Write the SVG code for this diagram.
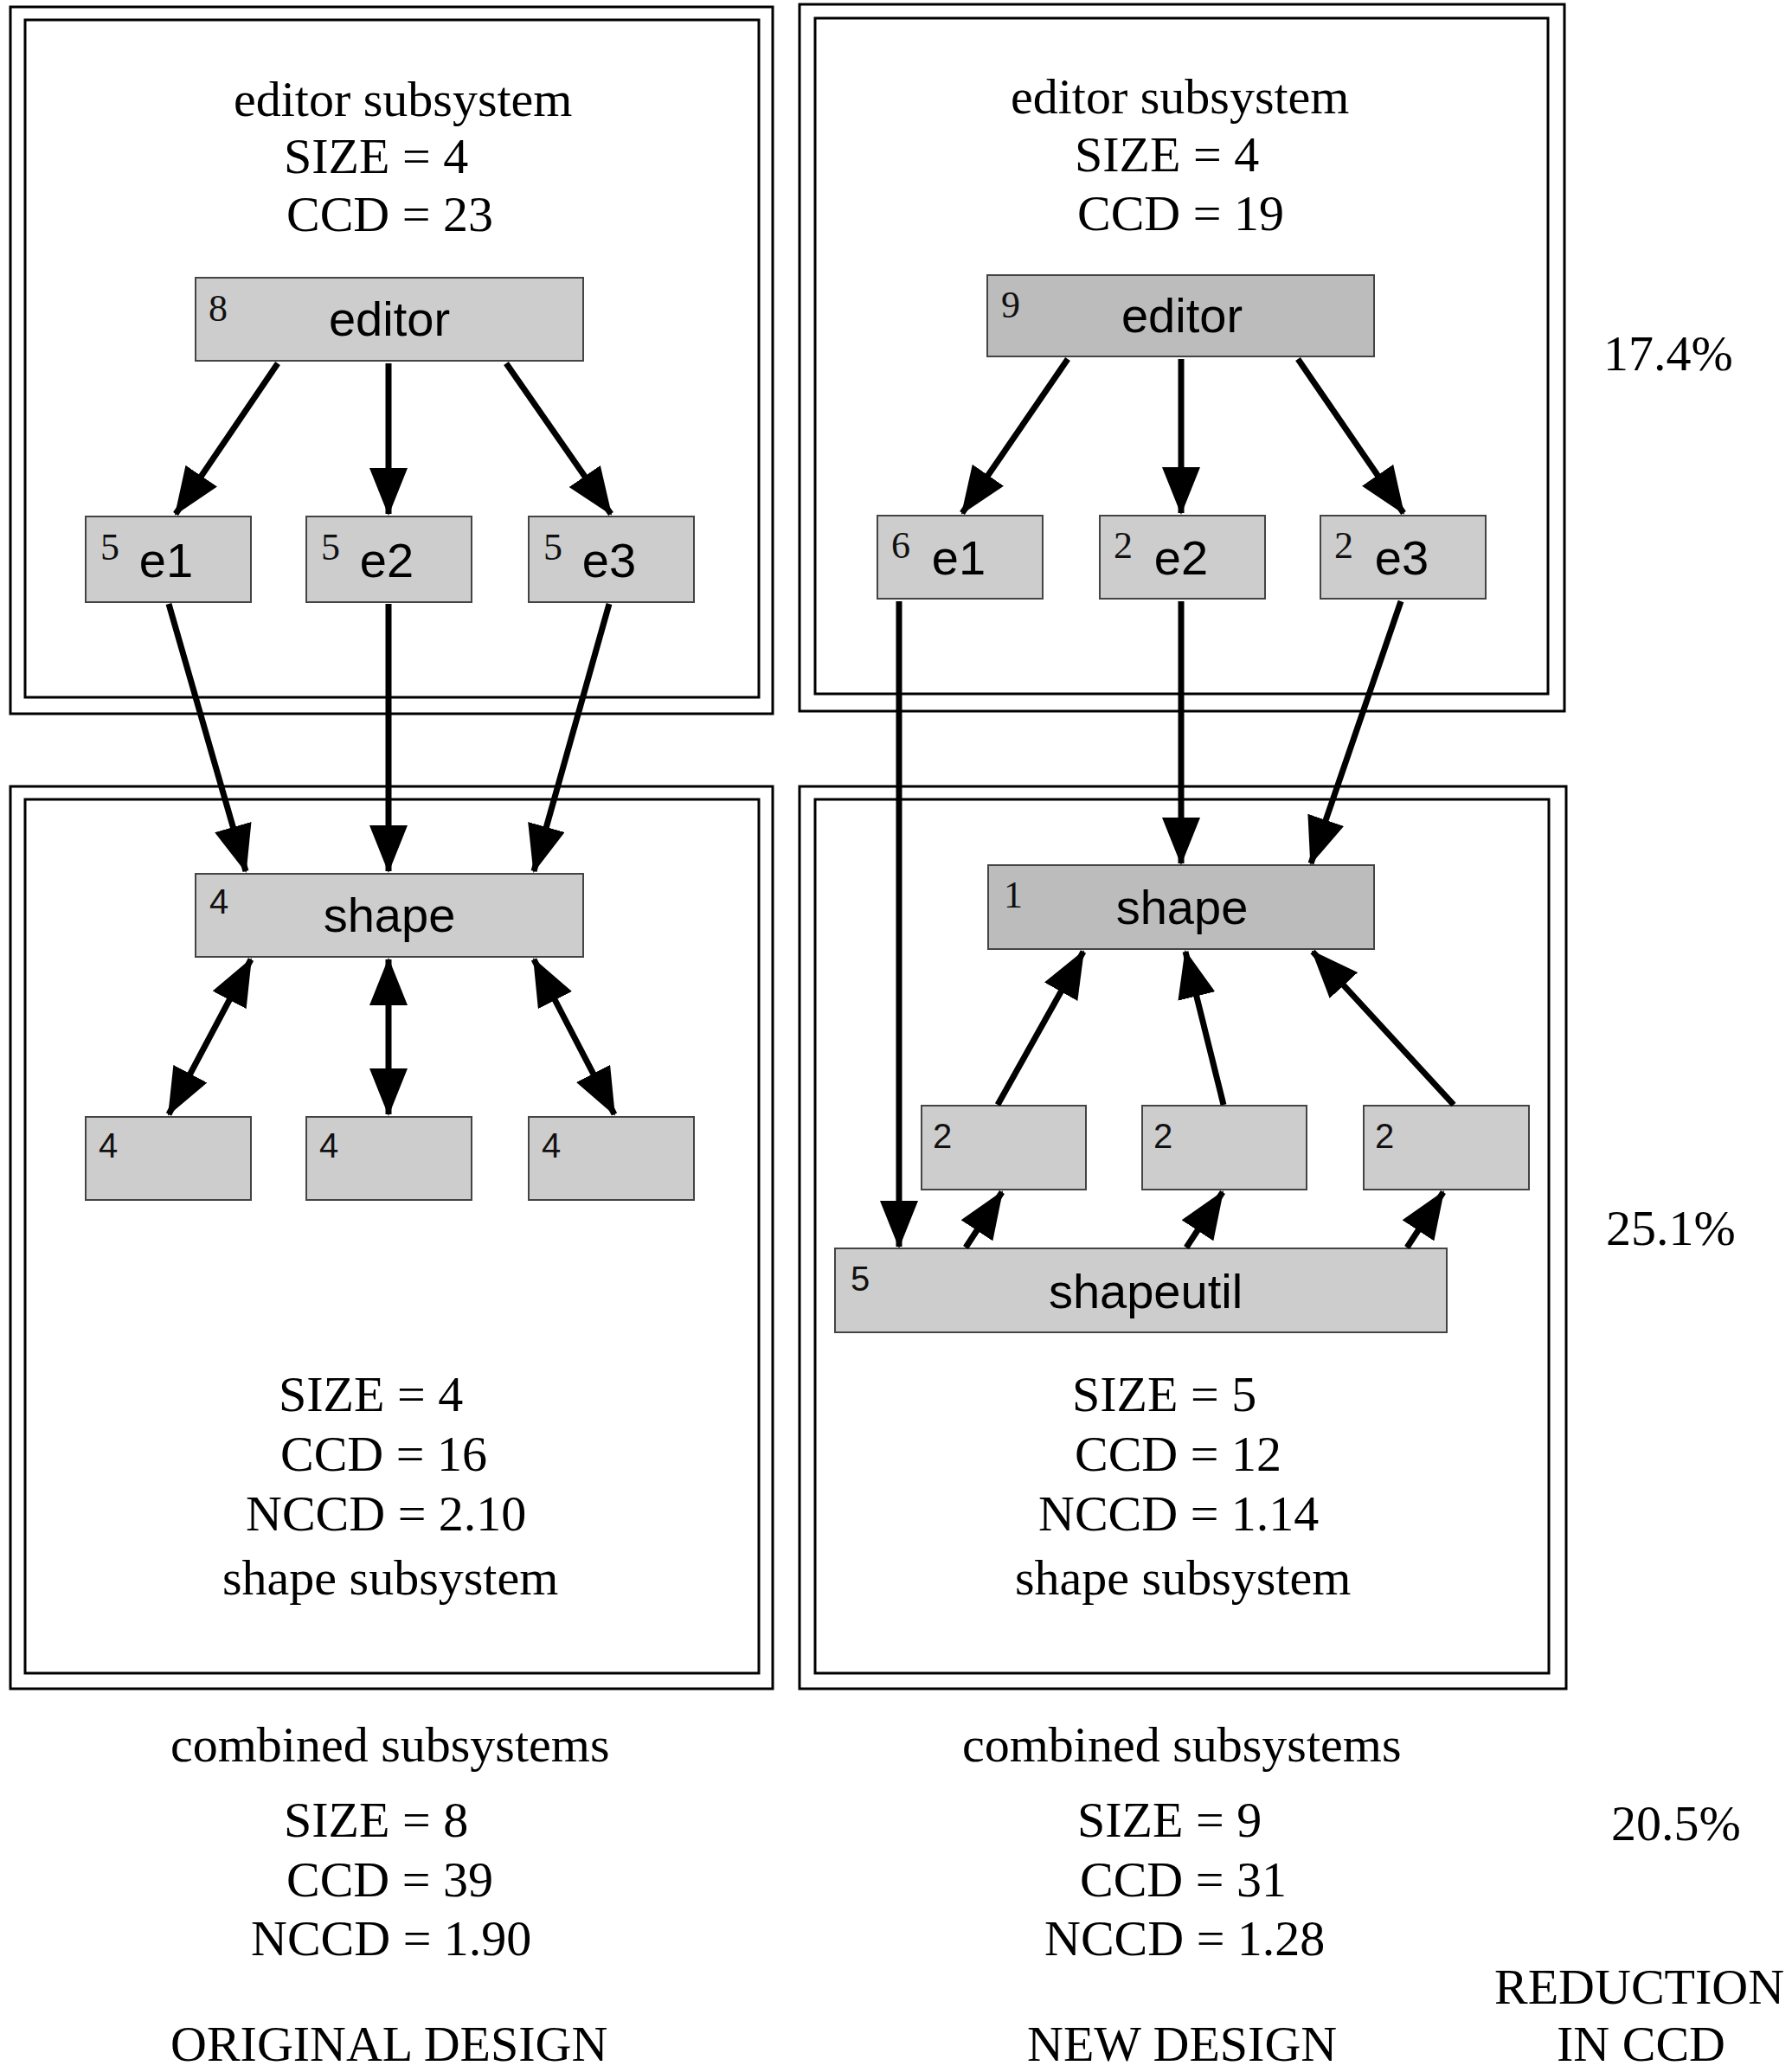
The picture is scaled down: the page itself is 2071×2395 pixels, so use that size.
<svg xmlns="http://www.w3.org/2000/svg" width="2071" height="2395" viewBox="0 0 2071 2395">
<style>
.frame{fill:none;stroke:#000;stroke-width:3}
.node{fill:#cdcdcd;stroke:#444;stroke-width:2}
.dark{fill:#bcbcbc}
.lbl{font-family:"Liberation Sans",Arial,sans-serif;font-size:56px;fill:#000;text-anchor:middle}
.num{font-family:"Liberation Serif","Times New Roman",serif;font-size:44px;fill:#111}
.nums{font-family:"Liberation Sans",Arial,sans-serif;font-size:40px;fill:#111}
.t{font-family:"Liberation Serif","Times New Roman",serif;font-size:58px;fill:#000}
.edge{stroke:#000;stroke-width:7;fill:none}
</style>
<defs>
<marker id="ah" markerUnits="userSpaceOnUse" markerWidth="55" markerHeight="44" refX="53" refY="22" orient="auto-start-reverse" viewBox="0 0 55 44">
<path d="M0,0 L55,22 L0,44 z" fill="#000"/>
</marker>
</defs>

<g id="frames">
<rect class="frame" x="12" y="8" width="881" height="817"/>
<rect class="frame" x="29" y="23" width="848" height="783"/>
<rect class="frame" x="924" y="5" width="884" height="817"/>
<rect class="frame" x="942" y="21" width="847" height="781"/>
<rect class="frame" x="12" y="909" width="881" height="1043"/>
<rect class="frame" x="29" y="924" width="848" height="1010"/>
<rect class="frame" x="924" y="909" width="886" height="1043"/>
<rect class="frame" x="942" y="924" width="848" height="1010"/>
</g>

<g id="texts">
<text class="t" x="270" y="134">editor subsystem</text>
<text class="t" x="328" y="200">SIZE =  4</text>
<text class="t" x="331" y="267">CCD =  23</text>
<text class="t" x="1168" y="131">editor subsystem</text>
<text class="t" x="1242" y="198">SIZE =  4</text>
<text class="t" x="1245" y="266">CCD =  19</text>
<text class="t" x="1853" y="428">17.4%</text>
<text class="t" x="322" y="1631">SIZE =  4</text>
<text class="t" x="324" y="1700">CCD =  16</text>
<text class="t" x="284" y="1769">NCCD =  2.10</text>
<text class="t" x="257" y="1843">shape subsystem</text>
<text class="t" x="1239" y="1631">SIZE =  5</text>
<text class="t" x="1242" y="1700">CCD =  12</text>
<text class="t" x="1200" y="1769">NCCD =  1.14</text>
<text class="t" x="1173" y="1843">shape subsystem</text>
<text class="t" x="1856" y="1439">25.1%</text>
<text class="t" x="197" y="2036">combined subsystems</text>
<text class="t" x="328" y="2123">SIZE =  8</text>
<text class="t" x="331" y="2192">CCD =  39</text>
<text class="t" x="290" y="2260">NCCD =  1.90</text>
<text class="t" x="1112" y="2036">combined subsystems</text>
<text class="t" x="1245" y="2123">SIZE =  9</text>
<text class="t" x="1248" y="2192">CCD =  31</text>
<text class="t" x="1207" y="2260">NCCD =  1.28</text>
<text class="t" x="1862" y="2127">20.5%</text>
<text class="t" x="1727" y="2316">REDUCTION</text>
<text class="t" x="1799" y="2382">IN CCD</text>
<text class="t" x="197" y="2382">ORIGINAL DESIGN</text>
<text class="t" x="1187" y="2382">NEW DESIGN</text>
</g>

<g id="L_editor"><rect class="node" x="226" y="321" width="448" height="96"/><text class="num" x="241" y="371">8</text><text class="lbl" x="450" y="388">editor</text></g>
<g id="L_e1"><rect class="node" x="99" y="597" width="191" height="99"/><text class="num" x="116" y="647">5</text><text class="lbl" x="192" y="667">e1</text></g>
<g id="L_e2"><rect class="node" x="354" y="597" width="191" height="99"/><text class="num" x="371" y="647">5</text><text class="lbl" x="447" y="667">e2</text></g>
<g id="L_e3"><rect class="node" x="611" y="597" width="191" height="99"/><text class="num" x="628" y="647">5</text><text class="lbl" x="704" y="667">e3</text></g>
<g id="L_shape"><rect class="node" x="226" y="1010" width="448" height="96"/><text class="nums" x="242" y="1056">4</text><text class="lbl" x="450" y="1077">shape</text></g>
<g id="L_s1"><rect class="node" x="99" y="1291" width="191" height="96"/><text class="nums" x="114" y="1338">4</text></g>
<g id="L_s2"><rect class="node" x="354" y="1291" width="191" height="96"/><text class="nums" x="369" y="1338">4</text></g>
<g id="L_s3"><rect class="node" x="611" y="1291" width="191" height="96"/><text class="nums" x="626" y="1338">4</text></g>

<g id="R_editor"><rect class="node dark" x="1141" y="318" width="447" height="94"/><text class="num" x="1157" y="367">9</text><text class="lbl" x="1366" y="384">editor</text></g>
<g id="R_e1"><rect class="node" x="1014" y="596" width="191" height="96"/><text class="num" x="1030" y="645">6</text><text class="lbl" x="1108" y="664">e1</text></g>
<g id="R_e2"><rect class="node" x="1271" y="596" width="191" height="96"/><text class="num" x="1287" y="645">2</text><text class="lbl" x="1365" y="664">e2</text></g>
<g id="R_e3"><rect class="node" x="1526" y="596" width="191" height="96"/><text class="num" x="1542" y="645">2</text><text class="lbl" x="1620" y="664">e3</text></g>
<g id="R_shape"><rect class="node dark" x="1142" y="1000" width="446" height="97"/><text class="num" x="1160" y="1049">1</text><text class="lbl" x="1366" y="1068">shape</text></g>
<g id="R_s1"><rect class="node" x="1065" y="1278" width="190" height="97"/><text class="nums" x="1078" y="1327">2</text></g>
<g id="R_s2"><rect class="node" x="1320" y="1278" width="190" height="97"/><text class="nums" x="1333" y="1327">2</text></g>
<g id="R_s3"><rect class="node" x="1576" y="1278" width="191" height="97"/><text class="nums" x="1589" y="1327">2</text></g>
<g id="R_shapeutil"><rect class="node" x="965" y="1443" width="707" height="97"/><text class="nums" x="983" y="1492">5</text><text class="lbl" x="1324" y="1512">shapeutil</text></g>

<g id="connectors">
<line class="edge" x1="321" y1="420" x2="203" y2="594" marker-end="url(#ah)"/>
<line class="edge" x1="449" y1="420" x2="449" y2="594" marker-end="url(#ah)"/>
<line class="edge" x1="585" y1="420" x2="706" y2="594" marker-end="url(#ah)"/>
<line class="edge" x1="195" y1="698" x2="284" y2="1007" marker-end="url(#ah)"/>
<line class="edge" x1="449" y1="698" x2="449" y2="1007" marker-end="url(#ah)"/>
<line class="edge" x1="704" y1="698" x2="617" y2="1007" marker-end="url(#ah)"/>
<line class="edge" x1="290" y1="1109" x2="195" y2="1288" marker-start="url(#ah)" marker-end="url(#ah)"/>
<line class="edge" x1="449" y1="1109" x2="449" y2="1288" marker-start="url(#ah)" marker-end="url(#ah)"/>
<line class="edge" x1="617" y1="1109" x2="710" y2="1288" marker-start="url(#ah)" marker-end="url(#ah)"/>
<line class="edge" x1="1234" y1="415" x2="1112" y2="593" marker-end="url(#ah)"/>
<line class="edge" x1="1365" y1="415" x2="1365" y2="593" marker-end="url(#ah)"/>
<line class="edge" x1="1500" y1="415" x2="1622" y2="593" marker-end="url(#ah)"/>
<line class="edge" x1="1039" y1="695" x2="1039" y2="1441" marker-end="url(#ah)"/>
<line class="edge" x1="1365" y1="695" x2="1365" y2="998" marker-end="url(#ah)"/>
<line class="edge" x1="1619" y1="695" x2="1515" y2="998" marker-end="url(#ah)"/>
<line class="edge" x1="1153" y1="1277" x2="1252" y2="1100" marker-end="url(#ah)"/>
<line class="edge" x1="1414" y1="1277" x2="1370" y2="1100" marker-end="url(#ah)"/>
<line class="edge" x1="1680" y1="1277" x2="1517" y2="1100" marker-end="url(#ah)"/>
<line class="edge" x1="1116" y1="1442" x2="1158" y2="1378" marker-end="url(#ah)"/>
<line class="edge" x1="1371" y1="1442" x2="1413" y2="1378" marker-end="url(#ah)"/>
<line class="edge" x1="1626" y1="1442" x2="1668" y2="1378" marker-end="url(#ah)"/>
</g>
</svg>
